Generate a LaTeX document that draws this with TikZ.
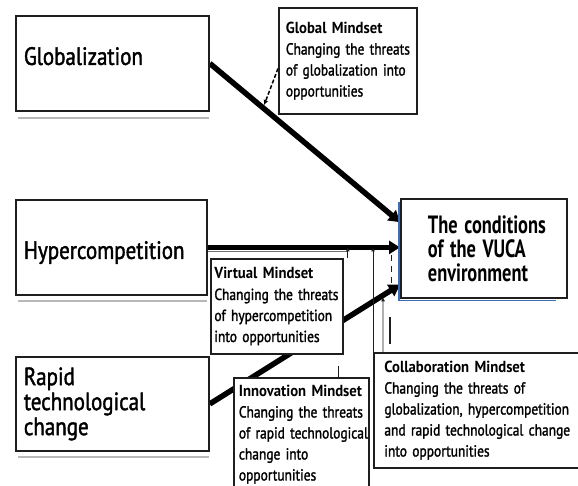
\documentclass[tikz,border=0pt]{standalone}
\usepackage{fontspec}
\usepackage{graphicx}
\setmainfont{PT Sans}[UprightFeatures={FakeStretch=0.84,FakeBold=1.6}, BoldFeatures={FakeStretch=0.92}]
\usetikzlibrary{arrows.meta,calc,backgrounds}
\definecolor{edge}{HTML}{1E1E1E}
\definecolor{shadowgray}{HTML}{B8B8B8}
\definecolor{vucablue}{HTML}{3C6EB4}
\newcommand{\oneline}[1]{\mbox{#1}}
\newcommand{\narrowline}[1]{\scalebox{0.8}[1]{#1}}
\begin{document}
\begin{tikzpicture}[x=1pt,y=-1pt,
  box/.style={draw=edge, line width=1.8pt, fill=white, inner sep=0pt, anchor=north west},
  bigbox/.style={box, font=\fontsize{25}{25}\selectfont, align=left, text width=#1, inner xsep=8pt},
  mind/.style 2 args={box, font=\fontsize{16}{21}\selectfont, align=left, inner xsep=#1, text width=#2},
  vucabox/.style={box, font=\fontsize{25}{24}\selectfont\bfseries, align=left, inner xsep=27pt, text width=112pt},
  thickarrow/.style={line width=5.5pt, draw=black, -{Triangle[length=11pt,width=13pt]}},
  thinline/.style={line width=0.8pt, draw=edge},
  smalltip/.style={-{Latex[length=4pt,width=4pt]}},
  shadowline/.style={line width=2pt, draw=shadowgray}
]
\useasboundingbox (0,0) rectangle (578,486);
\clip (0,0) rectangle (578,486);

% main boxes
\node[bigbox=177pt, minimum height=95pt, text height=18pt, text depth=15pt] (glob) at (15,15) {Globalization};
\node[bigbox=175pt, minimum height=95pt, text height=29pt, text depth=6pt] (hyp) at (15,199) {Hypercompetition};
\node[bigbox=177pt, minimum height=94pt] (rapid) at (15,356) {Rapid\\technological\\change};
\node[vucabox, minimum height=99pt] (vuca) at (400,198) {\narrowline{The conditions}\\\narrowline{of the VUCA}\\\narrowline{environment}};

% mindset boxes
\node[mind={7pt}{124pt}, minimum height=106pt] (gm) at (278,7)
  {\oneline{\textbf{Global Mindset}}\\\oneline{Changing the threats}\\\oneline{of globalization into}\\\oneline{opportunities}};
\node[mind={3.5pt}{125pt}, minimum height=95pt] (vm) at (210,258)
  {\oneline{\textbf{Virtual Mindset}}\\\oneline{Changing the threats}\\\oneline{of hypercompetition}\\\oneline{into opportunities}};
\node[mind={5pt}{125pt}, minimum height=113pt] (im) at (233,377)
  {\oneline{\textbf{Innovation Mindset}}\\\oneline{Changing the threats}\\\oneline{of rapid technological}\\\oneline{change into}\\\oneline{opportunities}};
\node[mind={10.5pt}{185pt}, minimum height=115pt] (cm) at (373,352)
  {\oneline{\textbf{Collaboration Mindset}}\\\oneline{Changing the threats of}\\\oneline{globalization, hypercompetition}\\\oneline{and rapid technological change}\\\oneline{into opportunities}};

% anchor points on the VUCA box
\coordinate (vucaG) at ($(vuca.north west)!0.24!(vuca.south west)$);
\coordinate (vucaH) at (hyp.east -| vuca.west);
\coordinate (vucaR) at ($(vuca.north west)!0.86!(vuca.south west)$);

% thick arrows behind the boxes
\begin{scope}[on background layer]
  \draw[thickarrow] (glob.east) -- (vucaG);
  \draw[thickarrow] (hyp.east) -- (vucaH);
  \draw[thickarrow] (rapid.east) -- (vucaR);
  \draw[line width=0.8pt, draw=black!55] ([yshift=-4.5pt]hyp.east) -- ([xshift=4pt,yshift=-4.5pt]hyp.east -| vm.east);
\end{scope}

% shadows under the main boxes
\draw[shadowline] ([xshift=3pt,yshift=-6pt]glob.south west) -- ([xshift=-1pt,yshift=-6pt]glob.south east);
\draw[shadowline] ([xshift=3pt,yshift=-5pt]hyp.south west) -- ([xshift=-1pt,yshift=-5pt]hyp.south east);
\draw[shadowline] ([xshift=3pt,yshift=-5pt]rapid.south west) -- ([xshift=-1pt,yshift=-5pt]rapid.south east);

% blue edge of the VUCA box
\draw[vucablue, line width=1.2pt] ([xshift=-1pt,yshift=-4pt]vuca.north west) -- ([xshift=-1pt,yshift=-2pt]vuca.south west) -- ([xshift=-12pt,yshift=-2pt]vuca.south east);

% small connectors
\coordinate (gmout) at ($(gm.north west)!0.57!(gm.south west)$);
\coordinate (gdot) at ($(glob.east)!0.28!(vucaG)$);
\draw[line width=1.5pt, draw=black, dash pattern=on 4pt off 2pt, -{Latex[length=5pt,width=5pt]}, shorten >=3pt] (gmout) -- (gdot);

\coordinate (vmtop) at ([xshift=4pt]vm.north east);
\draw[thinline, smalltip] (vmtop) -- (vmtop |- hyp.east);

\draw[thinline, smalltip] (cm.north west) -- (cm.north west |- hyp.east);

\coordinate (cm2) at ([xshift=10pt]cm.north west);
\coordinate (rdot) at ($(rapid.east)!0.911!(vucaR)$);
\draw[thinline, smalltip, shorten >=2pt] (cm2) -- (rdot);

\coordinate (bartop) at ($(vuca.south west)+(-10,18)$);
\draw[line width=1.8pt, draw=edge] (bartop) -- ++(0,27);

\coordinate (dashtop) at ($(vuca.north west)+(-9,57)$);
\draw[thinline, dash pattern=on 6pt off 5pt] (dashtop) -- ++(0,30);

\coordinate (imtick) at ([xshift=-31pt]im.north east);
\draw[thinline] (imtick) -- ++(0,-11);
\end{tikzpicture}
\end{document}
